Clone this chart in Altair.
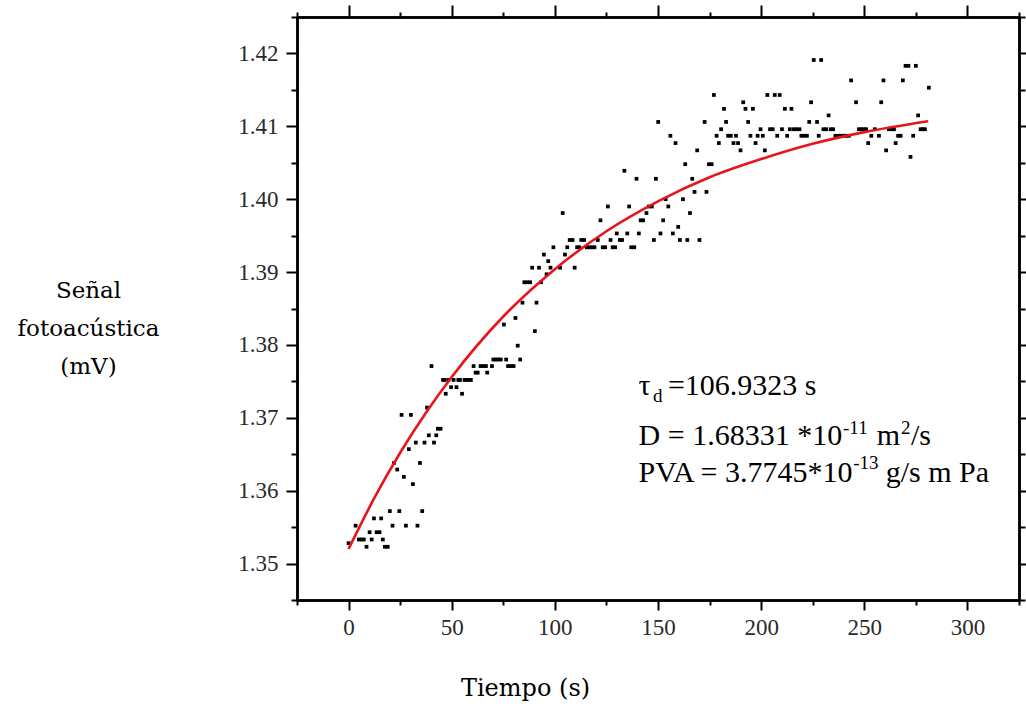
import altair as alt
import pandas as pd

# ---- measured data (time in s, photoacoustic signal in mV) ----
t_s = [0.0, 3.4, 5.0, 6.2, 7.4, 8.7, 10.2, 11.2, 12.3, 13.6, 15.0, 15.8, 16.6, 17.6, 19.0,
       20.0, 21.3, 22.0, 23.6, 24.6, 25.7, 26.8, 27.8, 29.2, 30.2, 31.2, 32.6, 33.4, 34.6,
       35.7, 36.8, 38.0, 38.9, 40.2, 41.4, 42.5, 43.3, 44.6, 45.8, 46.6, 47.1, 48.4, 49.7,
       50.9, 52.3, 53.2, 54.0, 55.0, 56.2, 57.2, 58.2, 59.3, 60.6, 61.6, 62.6, 64.0, 65.3,
       66.6, 67.2, 69.5, 70.2, 71.4, 72.6, 73.8, 75.3, 76.4, 77.3, 78.6, 80.0, 80.9, 82.0,
       83.2, 84.3, 85.2, 86.6, 88.0, 89.0, 90.3, 91.1, 92.3, 93.3, 94.7, 96.0, 96.8, 97.9,
       99.3, 102.5, 103.8, 104.9, 106.0, 107.2, 108.6, 109.6, 110.8, 111.9, 112.8, 114.2,
       115.5, 116.7, 118.0, 119.2, 120.8, 122.1, 123.2, 124.4, 125.7, 127.0, 128.0, 129.2,
       130.0, 131.5, 132.6, 133.7, 135.1, 136.0, 137.0, 138.5, 139.6, 140.7, 141.6, 142.8,
       144.4, 145.6, 147.0, 148.0, 149.0, 150.1, 151.2, 152.5, 153.7, 155.0, 156.0, 157.2,
       158.5, 159.8, 160.6, 162.1, 163.2, 164.2, 165.5, 166.6, 167.7, 169.0, 170.1, 172.6,
       173.5, 174.7, 176.0, 177.1, 178.4, 179.5, 180.6, 182.0, 183.0, 184.0, 185.3, 186.6,
       187.8, 188.8, 190.0, 191.3, 192.4, 193.7, 194.8, 196.0, 197.3, 198.3, 199.7, 200.8,
       201.8, 203.0, 204.3, 205.6, 206.6, 207.8, 209.0, 210.1, 211.5, 212.6, 213.9, 214.7,
       215.8, 217.2, 218.6, 219.5, 220.8, 222.2, 223.3, 224.2, 225.5, 227.1, 227.9, 229.1,
       230.2, 231.5, 232.7, 233.7, 234.9, 236.0, 237.3, 238.6, 240.0, 241.3, 242.5, 243.6,
       246.0, 247.4, 248.6, 249.8, 250.9, 251.9, 253.4, 255.1, 257.1, 258.2, 259.3, 260.6,
       261.9, 263.2, 264.4, 265.2, 266.4, 267.6, 268.7, 270.0, 271.4, 272.4, 273.7, 275.0,
       276.1, 277.3, 278.4, 279.4, 281.3]
signal_mV = [1.3528, 1.3552, 1.3533, 1.3533, 1.3533, 1.3523, 1.3543, 1.3533, 1.3562, 1.3543, 1.3543, 1.3562, 1.3533, 1.3523, 1.3523,
             1.3572, 1.3552, 1.3638, 1.3629, 1.3572, 1.3704, 1.3619, 1.3552, 1.3657, 1.3704, 1.3609, 1.3666, 1.3552, 1.3638,
             1.3572, 1.3666, 1.3714, 1.3676, 1.3771, 1.3666, 1.3676, 1.3685, 1.3685, 1.3752, 1.3752, 1.3733, 1.3752, 1.3742,
             1.3752, 1.3742, 1.3752, 1.3752, 1.3733, 1.3752, 1.3752, 1.3752, 1.3752, 1.3771, 1.3762, 1.3762, 1.3771, 1.3771,
             1.3771, 1.3762, 1.3771, 1.3780, 1.3780, 1.3780, 1.3780, 1.3828, 1.3780, 1.3771, 1.3771, 1.3771, 1.3837, 1.3799,
             1.3780, 1.3858, 1.3886, 1.3886, 1.3886, 1.3906, 1.3819, 1.3858, 1.3906, 1.3886, 1.3924, 1.3897, 1.3915, 1.3906,
             1.3934, 1.3906, 1.3981, 1.3924, 1.3934, 1.3944, 1.3944, 1.3906, 1.3934, 1.3934, 1.3944, 1.3944,
             1.3934, 1.3934, 1.3934, 1.3934, 1.3944, 1.3971, 1.3934, 1.3934, 1.3990, 1.3944, 1.3934, 1.3934,
             1.3953, 1.3944, 1.3944, 1.4039, 1.3953, 1.3990, 1.3934, 1.3934, 1.4028, 1.3953, 1.3971, 1.3971,
             1.3981, 1.3990, 1.3990, 1.3944, 1.4028, 1.4106, 1.3953, 1.3971, 1.4000, 1.3990, 1.4087, 1.3953,
             1.4077, 1.3962, 1.3944, 1.4000, 1.4048, 1.3944, 1.3981, 1.4028, 1.4010, 1.4067, 1.3944, 1.4106,
             1.4010, 1.4048, 1.4048, 1.4143, 1.4087, 1.4077, 1.4096, 1.4124, 1.4106, 1.4087, 1.4087, 1.4077,
             1.4087, 1.4077, 1.4067, 1.4133, 1.4124, 1.4106, 1.4087, 1.4124, 1.4077, 1.4087, 1.4096, 1.4087,
             1.4067, 1.4143, 1.4096, 1.4096, 1.4143, 1.4087, 1.4143, 1.4096, 1.4124, 1.4087, 1.4096, 1.4124,
             1.4096, 1.4096, 1.4096, 1.4087, 1.4087, 1.4087, 1.4106, 1.4133, 1.4191, 1.4106, 1.4087, 1.4191,
             1.4096, 1.4096, 1.4115, 1.4096, 1.4096, 1.4087, 1.4087, 1.4087, 1.4087, 1.4087, 1.4087, 1.4163,
             1.4133, 1.4096, 1.4096, 1.4096, 1.4096, 1.4077, 1.4087, 1.4096, 1.4087, 1.4133, 1.4163, 1.4067,
             1.4096, 1.4096, 1.4096, 1.4077, 1.4087, 1.4087, 1.4163, 1.4183, 1.4183, 1.4058, 1.4087, 1.4183,
             1.4115, 1.4096, 1.4096, 1.4096, 1.4153]

# ---- fitted curve ----
fit_t = [0, 12.5, 25, 37.5, 50, 75, 100, 125, 150, 175, 200, 225, 250, 281]
fit_v = [1.3520, 1.3590, 1.3652, 1.3707, 1.3756, 1.3839, 1.3904, 1.3956, 1.3997, 1.4030,
         1.4055, 1.4076, 1.4092, 1.4107]

# ---- tick values ----
x_major = [0, 50, 100, 150, 200, 250, 300]
x_minor = [-25, 25, 75, 125, 175, 225, 275, 325]
y_major = [1.35, 1.36, 1.37, 1.38, 1.39, 1.40, 1.41, 1.42]
y_minor = [1.345, 1.355, 1.365, 1.375, 1.385, 1.395, 1.405, 1.415, 1.425]

# ---- annotation text (normal-size pieces and sub/superscript pieces) ----
ann_big_text = ["τ", "=106.9323 s", "D = 1.68331 *10", "m", "/s", "PVA = 3.7745*10", "g/s m Pa"]
ann_big_t = [140.6, 154.8, 140.6, 256.1, 272.6, 140.6, 260.4]
ann_big_v = [1.37317, 1.37317, 1.36628, 1.36628, 1.36628, 1.36113, 1.36113]
ann_small_text = ["d", "-11", "2", "-13"]
ann_small_t = [147.6, 239.7, 267.8, 244.6]
ann_small_v = [1.37216, 1.36772, 1.36772, 1.36291]

pts = pd.DataFrame({"t": t_s, "v": signal_mV})
fit = pd.DataFrame({"t": fit_t, "v": fit_v})
big = pd.DataFrame({"t": ann_big_t, "v": ann_big_v, "txt": ann_big_text})
small = pd.DataFrame({"t": ann_small_t, "v": ann_small_v, "txt": ann_small_text})

XS = alt.Scale(domain=[-25, 325], nice=False, zero=False)
YS = alt.Scale(domain=[1.345, 1.425], nice=False, zero=False)


def axis(orient, values, size, labels=False, **kw):
    return alt.Axis(orient=orient, values=values, tickSize=size, labels=labels, grid=False,
                    domain=True, domainColor="black", domainWidth=2.5, ticks=True,
                    tickColor="black", tickWidth=2, labelFont="Liberation Serif",
                    labelFontSize=23, labelColor="#2a2a2a", **kw)


points = alt.Chart(pts).mark_square(size=14, color="black", opacity=1).encode(
    x=alt.X("t:Q", scale=XS, axis=axis("bottom", x_major, 10, labels=True, labelPadding=6,
                                        format="d", title="Tiempo (s)", titleFont="DejaVu Serif",
                                        titleFontSize=24, titleFontWeight="normal",
                                        titleColor="black", titleX=228, titleY=95,
                                        titleAlign="center", titleBaseline="alphabetic")),
    y=alt.Y("v:Q", scale=YS, axis=axis("left", y_major, 11, labels=True, labelPadding=8,
                                        format=".2f", title=["Señal", "fotoacústica", "(mV)"],
                                        titleFont="DejaVu Serif", titleFontSize=23,
                                        titleFontWeight="normal", titleColor="black",
                                        titleAngle=0, titleAlign="center",
                                        titleBaseline="middle", titleX=-209, titleY=273,
                                        titleLineHeight=38)),
)

curve = alt.Chart(fit).mark_line(color="#e8141c", strokeWidth=2.6, interpolate="monotone").encode(
    x=alt.X("t:Q", scale=XS, axis=axis("top", x_major, 12, title="")),
    y=alt.Y("v:Q", scale=YS, axis=axis("right", y_major, 11, title="")),
)

text_big = alt.Chart(big).mark_text(font="Liberation Serif", fontSize=30, align="left",
                                    baseline="alphabetic", color="black").encode(
    x=alt.X("t:Q", scale=XS, axis=axis("bottom", x_minor, 5, title="")),
    y=alt.Y("v:Q", scale=YS, axis=axis("left", y_minor, 6, title="")),
    text="txt:N",
)

text_small = alt.Chart(small).mark_text(font="Liberation Serif", fontSize=19, align="left",
                                        baseline="alphabetic", color="black").encode(
    x=alt.X("t:Q", scale=XS, axis=axis("top", x_minor, 5, title="")),
    y=alt.Y("v:Q", scale=YS, axis=axis("right", y_minor, 6, title="")),
    text="txt:N",
)

chart = alt.layer(points, curve, text_big, text_small).properties(
    width=722, height=583,
    autosize=alt.AutoSizeParams(type="none"),
    padding={"left": 297, "top": 17, "right": 7, "bottom": 107},
    background="white",
).configure_view(strokeWidth=0)

chart.save("out.html", embed_options={"renderer": "svg", "actions": False})
